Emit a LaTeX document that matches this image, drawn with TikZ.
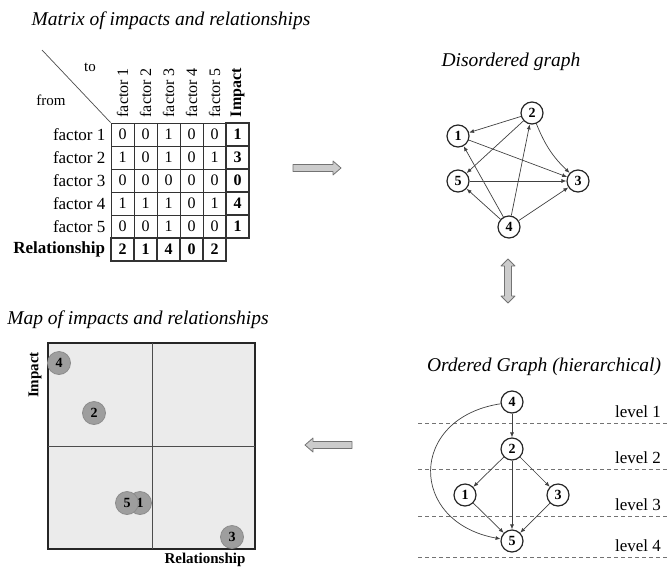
\documentclass[tikz,border=0pt]{standalone}
\usepackage{fontspec}
\setmainfont{Liberation Serif}
\usetikzlibrary{arrows.meta,positioning,calc}

\tikzset{
  title/.style={font=\fontsize{19.5}{19.5}\selectfont\itshape},
  cell/.style={draw=black!80, line width=0.8pt, minimum size=23pt, inner sep=0pt,
               font=\fontsize{16}{16}\selectfont},
  sumcell/.style={cell, line width=1.6pt, font=\fontsize{16}{16}\selectfont\bfseries},
  rowlab/.style={font=\fontsize{17}{17}\selectfont, inner sep=0pt},
  collab/.style={font=\fontsize{16}{16}\selectfont, inner sep=0pt},
  fac/.style={circle, draw=black!85, line width=1.2pt, fill=white, minimum size=22pt,
              inner sep=0pt, font=\fontsize{14}{14}\selectfont\bfseries},
  spot/.style={circle, draw=black!45, line width=0.8pt, fill=black!38, minimum size=23pt,
               inner sep=0pt, font=\fontsize{14}{14}\selectfont\bfseries},
  edge/.style={draw=black!75, line width=0.7pt, -{Latex[length=5pt,width=4pt]}},
  blockarrow/.style={draw=black!55, fill=black!20, line width=0.8pt, line join=round},
  levelline/.style={draw=black!55, line width=0.8pt, dashed, dash pattern=on 4pt off 3pt},
  levellab/.style={font=\fontsize{17}{17}\selectfont, anchor=east, inner sep=0pt}
}

\begin{document}
\begin{tikzpicture}[x=1pt,y=-1pt]
  \useasboundingbox (0,0) rectangle (668,570);

  % ---- matrix of impacts and relationships
  \node[title] (ttlmat) at (171,21) {Matrix of impacts and relationships};
  \foreach \row [count=\r] in {{0,0,1,0,0},{1,0,1,0,1},{0,0,0,0,0},{1,1,1,0,1},{0,0,1,0,0}}{
    \foreach \v [count=\c] in \row
      \node[cell] (m\r\c) at ({111+23*(\c-0.5)},{123+23*(\r-0.5)}) {\v};
  }
  \foreach \v [count=\r] in {1,3,0,4,1}
    \node[sumcell] (imp\r) at (237.5,{123+23*(\r-0.5)}) {\v};
  \foreach \v [count=\c] in {2,1,4,0,2}
    \node[sumcell] (rel\c) at ({111+23*(\c-0.5)},249.5) {\v};
  % row and column labels
  \foreach \r in {1,...,5}
    \node[rowlab, left=5pt of m\r1] (lab\r) {factor \r};
  \node[rowlab, left=5pt of rel1, font=\fontsize{17}{17}\selectfont\bfseries] (labrel) {Relationship};
  \foreach \c in {1,...,5}
    \node[collab, anchor=west, rotate=90] (hd\c) at ([yshift=5pt]m1\c.north) {factor \c};
  \node[collab, anchor=west, rotate=90, font=\fontsize{16}{16}\selectfont\bfseries] (hdimp)
    at ([yshift=5pt]imp1.north) {Impact};
  % corner with to / from
  \coordinate (diagtop) at (42,50);
  \draw[black!70, line width=0.7pt] (diagtop) -- (m11.north west);
  \node[collab, font=\fontsize{15}{15}\selectfont] (to) at (90,67) {to};
  \node[collab, font=\fontsize{15}{15}\selectfont] (from) at (51,100) {from};

  % ---- block arrows between the panels
  \draw[blockarrow] (293,164.5) -- (333,164.5) -- (333,161) -- (341,168)
    -- (333,175) -- (333,171.5) -- (293,171.5) -- cycle;
  \draw[blockarrow] (352,441.5) -- (313,441.5) -- (313,438) -- (305,445)
    -- (313,452) -- (313,448.5) -- (352,448.5) -- cycle;
  \draw[blockarrow] (504.5,266) -- (504.5,296) -- (501,296) -- (508,303)
    -- (515,296) -- (511.5,296) -- (511.5,266) -- (515,266) -- (508,259)
    -- (501,266) -- cycle;

  % ---- disordered graph
  \node[title] (ttldis) at (511,62) {Disordered graph};
  \node[fac] (d2) at (532,113) {2};
  \node[fac] (d1) at (458,136) {1};
  \node[fac] (d5) at (458,181) {5};
  \node[fac] (d3) at (578,181) {3};
  \node[fac] (d4) at (509,227) {4};
  \foreach \a/\b in {2/1,2/5,1/3,5/3,4/1,4/5,4/2,4/3}
    \draw[edge] (d\a) -- (d\b);
  \draw[edge] (d2) to[bend right=12] (d3);

  % ---- ordered graph
  \node[title] (ttlord) at (544,367) {Ordered Graph (hierarchical)};
  \foreach \y/\t/\ly in {423/1/412,469/2/458,516/3/505,557/4/546}{
    \draw[levelline] (418,\y) -- (668,\y);
    \node[levellab] (lv\t) at (661,\ly) {level \t};
  }
  \node[fac] (o4) at (512,402) {4};
  \node[fac] (o2) at (512,449) {2};
  \node[fac] (o1) at (465,495) {1};
  \node[fac] (o3) at (558,495) {3};
  \node[fac] (o5) at (512,541) {5};
  \foreach \a/\b in {4/2,2/1,2/3,2/5,1/5,3/5}
    \draw[edge] (o\a) -- (o\b);
  \draw[edge] (o4) .. controls (408,418) and (408,522) .. (o5);

  % ---- map of impacts and relationships
  \node[title] (ttlmap) at (138,320) {Map of impacts and relationships};
  \draw[black!85, line width=1.6pt, fill=black!8] (48,343) rectangle (255,549);
  \draw[black!70, line width=0.8pt] (152,343) -- (152,549);
  \draw[black!70, line width=0.8pt] (48,446) -- (255,446);
  \node[rotate=90, font=\fontsize{15}{15}\selectfont\bfseries] (axy) at (35,375) {Impact};
  \node[font=\fontsize{15}{15}\selectfont\bfseries] (axx) at (205,560) {Relationship};
  \node[spot] (p4) at (59,363) {4};
  \node[spot] (p2) at (94,413) {2};
  \node[spot] (p1) at (140,503) {1};
  \node[spot] (p5) at (127,503) {5};
  \node[spot] (p3) at (232,537) {3};
\end{tikzpicture}
\end{document}
